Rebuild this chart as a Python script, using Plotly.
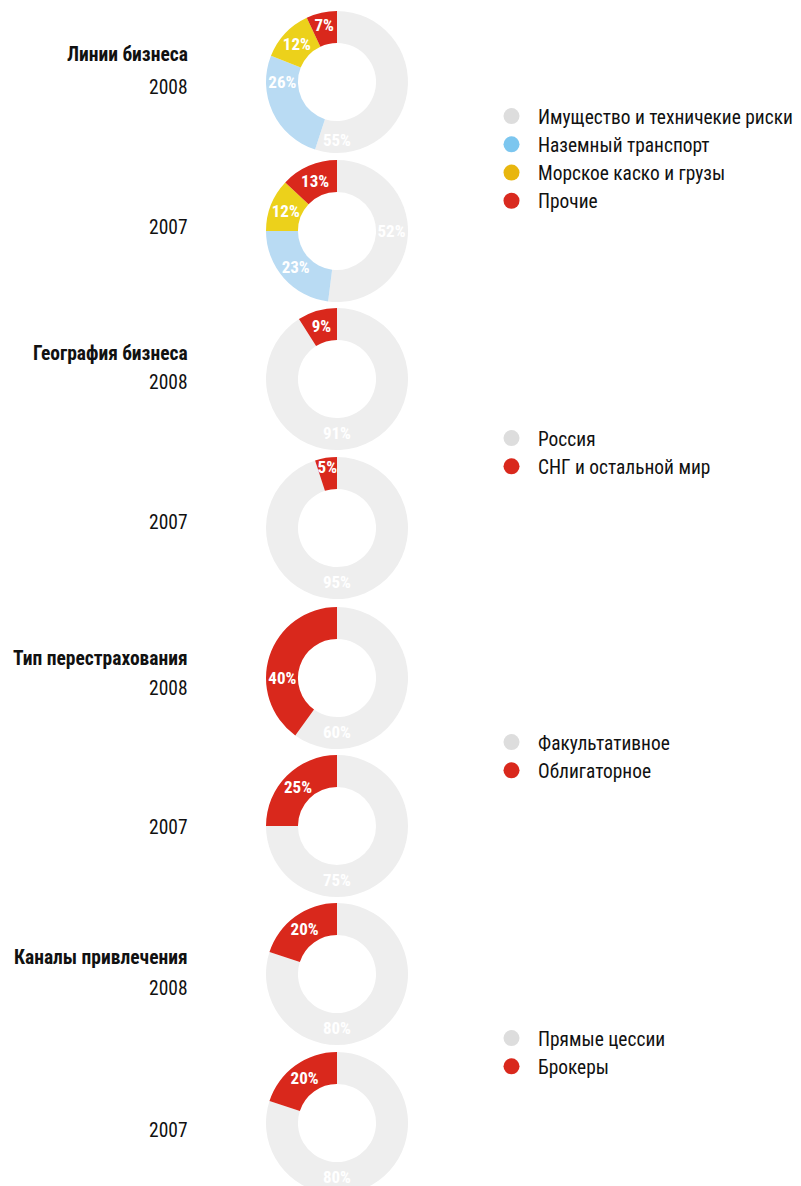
import plotly.graph_objects as go

# ---------------- data ----------------
groups = ["Линии бизнеса", "География бизнеса", "Тип перестрахования", "Каналы привлечения"]
years = ["2008", "2007"]

lines_cats = ["Имущество и техничекие риски", "Наземный транспорт", "Морское каско и грузы", "Прочие"]
lines_2008 = [55, 26, 12, 7]
lines_2007 = [52, 23, 12, 13]

geo_cats = ["Россия", "СНГ и остальной мир"]
geo_2008 = [91, 9]
geo_2007 = [95, 5]

reins_cats = ["Факультативное", "Облигаторное"]
reins_2008 = [60, 40]
reins_2007 = [75, 25]

chan_cats = ["Прямые цессии", "Брокеры"]
chan_2008 = [80, 20]
chan_2007 = [80, 20]

# ---------------- styles / layout ----------------
W, H = 816, 1200          # page is cropped to 801x1186 by the viewport, like the reference
CX = 337
D = 142
centers = [82, 231, 379, 528, 678, 826, 974, 1123]
slice_colors4 = ["#eeeeee", "#b9dbf3", "#ecd11b", "#d9281c"]
legend_colors4 = ["#dddddd", "#7cc6ef", "#e8b60e", "#d92a1f"]
slice_colors2 = ["#eeeeee", "#d9281c"]
legend_colors2 = ["#dddddd", "#d9281c"]
FONT = "Roboto Condensed, Liberation Sans Narrow, Roboto, sans-serif"

datasets = [
    (lines_cats, lines_2008, lines_2007, slice_colors4, legend_colors4),
    (geo_cats, geo_2008, geo_2007, slice_colors2, legend_colors2),
    (reins_cats, reins_2008, reins_2007, slice_colors2, legend_colors2),
    (chan_cats, chan_2008, chan_2007, slice_colors2, legend_colors2),
]
legend_tops = [97, 419, 723, 1019]
title_y = [55, 353, 658, 957]
y2008 = [87, 383, 688, 988]
y2007 = [227, 522, 827, 1130]

fig = go.Figure()


def domain(cy):
    return dict(x=[(CX - D / 2) / W, (CX + D / 2) / W],
                y=[max(0, 1 - (cy + D / 2) / H), min(1, 1 - (cy - D / 2) / H)])


annotations = []
for gi, (cats, v08, v07, scol, lcol) in enumerate(datasets):
    for yi, vals in enumerate([v08, v07]):
        cy = centers[gi * 2 + yi]
        fig.add_trace(go.Pie(
            labels=cats, values=vals, hole=0.55, sort=False, direction="clockwise",
            rotation=0, marker=dict(colors=scol, line=dict(width=0)),
            texttemplate="%{value}%", textposition="inside",
            insidetextorientation="horizontal",
            textfont=dict(color="white", size=17, family=FONT, weight="bold"),
            domain=domain(cy), showlegend=False, hoverinfo="label+percent",
        ))
    lname = "legend" if gi == 0 else f"legend{gi + 1}"
    for ci, (c, col) in enumerate(zip(cats, lcol)):
        fig.add_trace(go.Scatter(
            x=[None], y=[None], mode="markers", name=c,
            marker=dict(color=col, size=18, symbol="circle"),
            legend=lname, legendgroup=f"g{gi}_{ci}", showlegend=True,
        ))
    for txt, yy in [("<b>" + groups[gi] + "</b>", title_y[gi]), (years[0], y2008[gi]), (years[1], y2007[gi])]:
        annotations.append(dict(text=txt, x=190 / W, y=1 - yy / H,
                                xref="paper", yref="paper", xanchor="right", yanchor="middle",
                                showarrow=False, font=dict(size=19.5, color="#111", family=FONT)))

layout = dict(
    width=W, height=H, margin=dict(l=0, r=0, t=0, b=0),
    paper_bgcolor="white", plot_bgcolor="white",
    xaxis=dict(visible=False), yaxis=dict(visible=False),
    annotations=annotations, font=dict(family=FONT),
    uniformtext=dict(minsize=17, mode="show"),
)
for gi in range(4):
    key = "legend" if gi == 0 else f"legend{gi + 1}"
    layout[key] = dict(x=485 / W, y=1 - legend_tops[gi] / H, xanchor="left", yanchor="top",
                       font=dict(size=19.4, color="#111", family=FONT),
                       bgcolor="rgba(0,0,0,0)", tracegroupgap=0, itemwidth=43)
fig.update_layout(**layout)

fig.write_html("out.html", config={"displayModeBar": False},
               post_script="document.documentElement.style.overflow='hidden';document.body.style.margin='0';document.body.style.overflow='hidden';")
